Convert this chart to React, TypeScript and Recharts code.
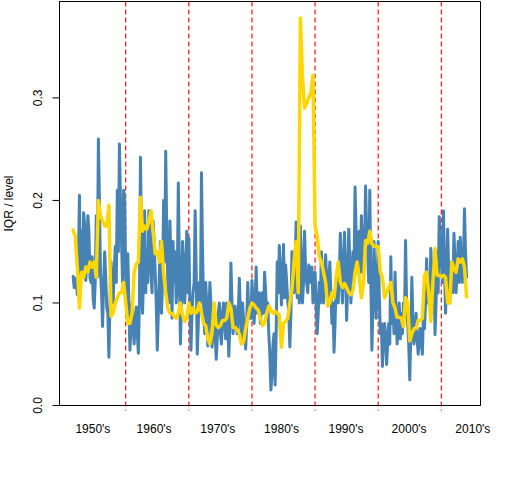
import React from 'react';
import { LineChart, Line, XAxis, YAxis, ReferenceLine, ReferenceArea } from 'recharts';

// time grid of the series (years), one observation every 4 months,
// plus an intermediate reading of the blue series half-way between them
const START_YEAR = 1951.67;
const STEP_YEARS = 1 / 3;

const blueIQR = [
  0.126, 0.124, 0.108, 0.205, 0.17, 0.188, 0.122, 0.185, 0.125, 0.145,
  0.095, 0.185, 0.26, 0.13, 0.077, 0.15, 0.095, 0.047, 0.14, 0.1,
  0.155, 0.21, 0.255, 0.16, 0.21, 0.125, 0.148, 0.054, 0.1, 0.06,
  0.096, 0.051, 0.242, 0.09, 0.19, 0.15, 0.19, 0.13, 0.18, 0.13,
  0.054, 0.13, 0.09, 0.2, 0.248, 0.12, 0.18, 0.085, 0.12, 0.1,
  0.217, 0.06, 0.16, 0.1, 0.17, 0.163, 0.054, 0.11, 0.19, 0.05,
  0.12, 0.227, 0.1, 0.12, 0.058, 0.12, 0.057, 0.09, 0.045, 0.09,
  0.07, 0.09, 0.078, 0.1, 0.048, 0.139, 0.07, 0.097, 0.07, 0.124,
  0.06, 0.085, 0.055, 0.12, 0.1, 0.122, 0.08, 0.135, 0.1, 0.08,
  0.11, 0.13, 0.09, 0.07, 0.015, 0.06, 0.02, 0.14, 0.156, 0.098,
  0.157, 0.137, 0.102, 0.057, 0.15, 0.11, 0.179, 0.14, 0.175, 0.1,
  0.17, 0.12, 0.137, 0.12, 0.1, 0.13, 0.07, 0.12, 0.15, 0.1,
  0.147, 0.1, 0.14, 0.08, 0.052, 0.12, 0.1, 0.168, 0.1, 0.169,
  0.083, 0.172, 0.1, 0.15, 0.213, 0.13, 0.17, 0.185, 0.12, 0.214,
  0.15, 0.21, 0.054, 0.16, 0.085, 0.16, 0.07, 0.038, 0.08, 0.04,
  0.08, 0.145, 0.1, 0.13, 0.06, 0.1, 0.09, 0.1, 0.161, 0.08,
  0.025, 0.125, 0.06, 0.09, 0.05, 0.075, 0.05, 0.075, 0.143, 0.12,
  0.153, 0.12, 0.069, 0.15, 0.184, 0.14, 0.19, 0.09, 0.172, 0.1,
  0.14, 0.168, 0.11, 0.16, 0.164, 0.12, 0.192, 0.125,
];

const blueIQRMid = [
  0.115, 0.12, 0.14, 0.125, 0.125, 0.175, 0.14, 0.17, 0.12, 0.105,
  0.12, 0.125, 0.2, 0.11, 0.12, 0.125, 0.09, 0.1, 0.12, 0.13,
  0.12, 0.15, 0.2, 0.12, 0.2, 0.09, 0.1, 0.075, 0.08, 0.085,
  0.07, 0.1, 0.16, 0.13, 0.11, 0.12, 0.165, 0.11, 0.16, 0.1,
  0.09, 0.16, 0.12, 0.14, 0.17, 0.1, 0.14, 0.16, 0.15, 0.12,
  0.13, 0.1, 0.14, 0.12, 0.11, 0.1, 0.09, 0.12, 0.13, 0.08,
  0.1, 0.15, 0.07, 0.1, 0.09, 0.1, 0.075, 0.07, 0.065, 0.1,
  0.06, 0.1, 0.065, 0.08, 0.08, 0.1, 0.085, 0.08, 0.09, 0.09,
  0.1, 0.075, 0.08, 0.085, 0.085, 0.1, 0.1, 0.09, 0.11, 0.095,
  0.09, 0.11, 0.1, 0.05, 0.03, 0.07, 0.07, 0.11, 0.13, 0.12,
  0.105, 0.12, 0.09, 0.09, 0.13, 0.14, 0.105, 0.1, 0.14, 0.12,
  0.13, 0.11, 0.13, 0.135, 0.11, 0.1, 0.09, 0.1, 0.12, 0.12,
  0.125, 0.12, 0.11, 0.1, 0.08, 0.13, 0.125, 0.13, 0.14, 0.13,
  0.12, 0.14, 0.12, 0.13, 0.17, 0.15, 0.13, 0.16, 0.15, 0.17,
  0.12, 0.12, 0.1, 0.12, 0.12, 0.11, 0.08, 0.06, 0.07, 0.06,
  0.06, 0.08, 0.07, 0.09, 0.08, 0.065, 0.07, 0.085, 0.1, 0.06,
  0.07, 0.08, 0.075, 0.065, 0.065, 0.06, 0.09, 0.1, 0.1, 0.1,
  0.13, 0.14, 0.1, 0.11, 0.16, 0.12, 0.14, 0.12, 0.13, 0.12,
  0.11, 0.14, 0.13, 0.12, 0.14, 0.14, 0.15,
];

const goldIQR = [
  0.171, 0.165, 0.135, 0.095, 0.13, 0.125, 0.135, 0.13, 0.14, 0.135,
  0.14, 0.125, 0.2, 0.185, 0.18, 0.175, 0.175, 0.195, 0.087, 0.09,
  0.1, 0.105, 0.11, 0.11, 0.12, 0.1, 0.08, 0.08, 0.09, 0.13,
  0.138, 0.14, 0.203, 0.17, 0.175, 0.172, 0.18, 0.19, 0.17, 0.148,
  0.15, 0.14, 0.16, 0.13, 0.11, 0.095, 0.09, 0.09, 0.087, 0.085,
  0.09, 0.1, 0.088, 0.082, 0.085, 0.1, 0.09, 0.095, 0.09, 0.092,
  0.1, 0.09, 0.08, 0.078, 0.065, 0.06, 0.07, 0.1, 0.078, 0.076,
  0.078, 0.083, 0.083, 0.085, 0.1, 0.095, 0.076, 0.076, 0.074, 0.07,
  0.06, 0.062, 0.075, 0.085, 0.095, 0.1, 0.098, 0.095, 0.093, 0.085,
  0.078, 0.08, 0.09, 0.097, 0.093, 0.09, 0.092, 0.09, 0.088, 0.057,
  0.08, 0.082, 0.085, 0.1, 0.113, 0.14, 0.16, 0.11, 0.378, 0.32,
  0.29, 0.295, 0.3, 0.305, 0.322, 0.175, 0.165, 0.145, 0.14, 0.13,
  0.12, 0.097, 0.1, 0.11, 0.105, 0.125, 0.14, 0.12, 0.115, 0.119,
  0.115, 0.11, 0.108, 0.112, 0.13, 0.14, 0.125, 0.105, 0.12, 0.161,
  0.158, 0.17, 0.158, 0.155, 0.155, 0.155, 0.13, 0.125, 0.105, 0.11,
  0.115, 0.12, 0.1, 0.095, 0.086, 0.086, 0.085, 0.077, 0.105, 0.1,
  0.063, 0.07, 0.075, 0.075, 0.083, 0.083, 0.085, 0.127, 0.13, 0.11,
  0.082, 0.12, 0.153, 0.127, 0.127, 0.125, 0.127, 0.125, 0.1, 0.1,
  0.14, 0.133, 0.13, 0.143, 0.14, 0.143, 0.135, 0.106,
];

const decadeBreaks = [1960, 1970, 1980, 1990, 2000, 2010];
const xLabelPos = [1954.8, 1964.5, 1974.6, 1984.7, 1994.9, 2004.9, 2015.0];
const xLabels = ["1950's", "1960's", "1970's", "1980's", "1990's", "2000's", "2010's"];
const yTicks = [0, 0.1, 0.2, 0.3];

const X_DOMAIN: [number, number] = [1949.51, 2016.21];
const Y_DOMAIN: [number, number] = [0, 0.394];

const FONT = '"Liberation Sans", Arial, sans-serif';

const data: { t: number; blue: number; gold?: number }[] = [];
blueIQR.forEach((b, i) => {
  data.push({ t: START_YEAR + i * STEP_YEARS, blue: b, gold: goldIQR[i] });
  if (i < blueIQRMid.length) {
    data.push({ t: START_YEAR + (i + 0.5) * STEP_YEARS, blue: blueIQRMid[i] });
  }
});

const XTick = (props: any) => {
  const { x, y, payload } = props;
  const idx = xLabelPos.indexOf(payload.value);
  return (
    <text x={x} y={y} textAnchor="middle" dominantBaseline="central" fontSize={12} fontFamily={FONT} fill="#000">
      {idx >= 0 ? xLabels[idx] : ''}
    </text>
  );
};

const YTick = (props: any) => {
  const { x, y, payload } = props;
  return (
    <text
      x={x}
      y={y}
      transform={`rotate(-90 ${x} ${y})`}
      textAnchor="middle"
      dominantBaseline="central"
      fontSize={12}
      fontFamily={FONT}
      fill="#000"
    >
      {Number(payload.value).toFixed(1)}
    </text>
  );
};

const YTitle = (props: any) => {
  const vb = props.viewBox || { x: 0, y: 0, height: 400 };
  const cx = vb.x + 8.5;
  const cy = vb.y + vb.height / 2;
  return (
    <text
      x={cx}
      y={cy}
      transform={`rotate(-90 ${cx} ${cy})`}
      textAnchor="middle"
      dominantBaseline="central"
      fontSize={12}
      fontFamily={FONT}
      fill="#000"
    >
      IQR / level
    </text>
  );
};

const DecadeLine = (props: any) => {
  const { x1, y1, x2, y2 } = props;
  const top = Math.min(y1, y2);
  const bottom = Math.max(y1, y2) + 5;
  return <line x1={x1} x2={x2} y1={top} y2={bottom} stroke="#FF0000" strokeWidth={1.1} strokeDasharray="5 3" />;
};

export default function App() {
  return (
    <div style={{ position: 'absolute', left: 0, top: 0, background: '#fff' }}>
      <LineChart
        width={512}
        height={480}
        data={data}
        margin={{ top: 1.5, right: 31.5, left: 0, bottom: 0 }}
      >
        <XAxis
          dataKey="t"
          type="number"
          domain={X_DOMAIN}
          allowDataOverflow
          ticks={xLabelPos}
          interval={0}
          height={74.5}
          tickLine={false}
          tickSize={0}
          tickMargin={23}
          tick={<XTick />}
          axisLine={{ stroke: '#000', strokeWidth: 1 }}
        />
        <YAxis
          type="number"
          domain={Y_DOMAIN}
          allowDataOverflow
          ticks={yTicks}
          interval={0}
          width={59.5}
          tickSize={7}
          tickMargin={14.3}
          tickLine={{ stroke: '#000', strokeWidth: 1 }}
          axisLine={{ stroke: '#000', strokeWidth: 1 }}
          tick={<YTick />}
          label={<YTitle />}
        />
        <ReferenceArea
          x1={X_DOMAIN[0]}
          x2={X_DOMAIN[1]}
          y1={Y_DOMAIN[0]}
          y2={Y_DOMAIN[1]}
          ifOverflow="visible"
          fill="none"
          fillOpacity={0}
          stroke="#000"
          strokeWidth={1}
          strokeOpacity={1}
        />
        {decadeBreaks.map((d) => (
          <ReferenceLine key={d} x={d} ifOverflow="visible" shape={<DecadeLine />} />
        ))}
        <Line
          type="linear"
          dataKey="blue"
          stroke="#4682B4"
          strokeWidth={3}
          strokeLinecap="round"
          strokeLinejoin="round"
          dot={false}
          activeDot={false}
          connectNulls
          isAnimationActive={false}
        />
        <Line
          type="linear"
          dataKey="gold"
          stroke="#FFD700"
          strokeWidth={3.5}
          strokeLinecap="round"
          strokeLinejoin="round"
          dot={false}
          activeDot={false}
          connectNulls
          isAnimationActive={false}
        />
      </LineChart>
    </div>
  );
}
